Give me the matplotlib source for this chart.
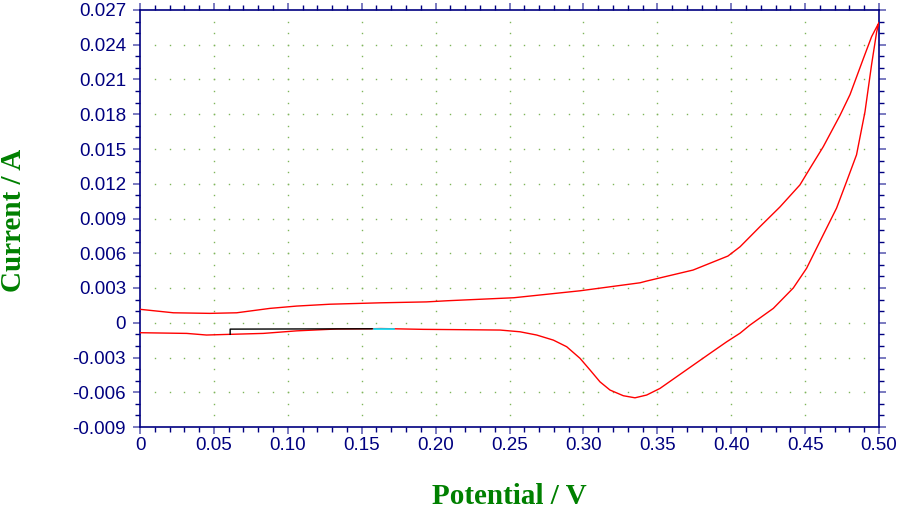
import numpy as np
import matplotlib
matplotlib.use('Agg')
import matplotlib.pyplot as plt
from matplotlib.ticker import MultipleLocator

plt.rcParams['axes.unicode_minus'] = False

# forward scan (upper branch), potential in V, current in A
fwd_v = [0.000, 0.0226, 0.0473, 0.0654, 0.0879, 0.106, 0.1285, 0.1623, 0.1938,
         0.208, 0.253, 0.2978, 0.3383, 0.3428, 0.3742, 0.3978, 0.4060, 0.4195,
         0.4330, 0.4465, 0.4533, 0.4623, 0.4736, 0.4804, 0.4894, 0.4950, 0.4995, 0.500]
fwd_i = [0.00116, 0.00086, 0.00081, 0.00086, 0.00124, 0.00144, 0.0016, 0.00172, 0.0018,
         0.0019, 0.00216, 0.00276, 0.00345, 0.0036, 0.00455, 0.00576, 0.00656, 0.0083,
         0.0100, 0.0119, 0.01333, 0.0152, 0.0179, 0.0197, 0.0228, 0.0247, 0.0258, 0.0259]

# reverse scan (lower branch)
rev_v = [0.500, 0.4984, 0.4950, 0.4905, 0.4848, 0.4781, 0.4713, 0.4623, 0.4510,
         0.4420, 0.4285, 0.4127, 0.4060, 0.397, 0.3857, 0.3744, 0.3631, 0.3518,
         0.3428, 0.3349, 0.327, 0.318, 0.3112, 0.3045, 0.2977, 0.2887, 0.2797,
         0.2684, 0.2571, 0.2436, 0.219, 0.1916, 0.163, 0.1556, 0.133,
         0.106, 0.0834, 0.061, 0.045, 0.0316, 0.000]
rev_i = [0.0259, 0.0251, 0.0223, 0.0182, 0.0145, 0.0122, 0.0099, 0.0076, 0.0047,
         0.0030, 0.00124, -0.0002, -0.0009, -0.00164, -0.00264, -0.00365, -0.00466, -0.00567,
         -0.00624, -0.00648, -0.0063, -0.00581, -0.0051, -0.00408, -0.00307, -0.00207, -0.0015,
         -0.00106, -0.00078, -0.00063, -0.00060, -0.00057, -0.0005, -0.00052, -0.00054,
         -0.0007, -0.00092, -0.00100, -0.00106, -0.00092, -0.00086]

# cursor segments near the baseline
black_v = [0.061, 0.061, 0.157]
black_i = [-0.00100, -0.00055, -0.00052]
cyan_v = [0.158, 0.172]
cyan_i = [-0.00052, -0.00052]

x_ticks = [0, 0.05, 0.10, 0.15, 0.20, 0.25, 0.30, 0.35, 0.40, 0.45, 0.50]
x_labels = ['0', '0.05', '0.10', '0.15', '0.20', '0.25', '0.30', '0.35', '0.40', '0.45', '0.50']
y_ticks = [-0.009, -0.006, -0.003, 0, 0.003, 0.006, 0.009, 0.012, 0.015, 0.018, 0.021, 0.024, 0.027]
y_labels = ['-0.009', '-0.006', '-0.003', '0', '0.003', '0.006', '0.009', '0.012',
            '0.015', '0.018', '0.021', '0.024', '0.027']

navy = '#000080'
green = '#008000'

fig = plt.figure(figsize=(9, 5.16), dpi=100)
ax = fig.add_axes([140 / 900, 1 - 427 / 516, 739 / 900, 417 / 516])

# dotted grid: dots along major lines at minor spacing
gx_minor = np.arange(0.01, 0.5, 0.01)
gy_minor = np.arange(-0.008, 0.027, 0.001)
for xv in x_ticks[1:-1]:
    ax.plot(np.full_like(gy_minor, xv), gy_minor, ls='none', marker='s', ms=1.0,
            mec='none', mfc='#7fb55a', zorder=1)
for yv in y_ticks[1:-1]:
    ax.plot(gx_minor, np.full_like(gx_minor, yv), ls='none', marker='s', ms=1.0,
            mec='none', mfc='#7fb55a', zorder=1)

ax.plot(fwd_v + rev_v[1:], fwd_i + rev_i[1:], color='#ff0000', lw=1.0, zorder=3)
ax.plot(black_v, black_i, color='black', lw=1.0, zorder=4)
ax.plot(cyan_v, cyan_i, color='#00e5ff', lw=1.2, zorder=4)

ax.set_xlim(0, 0.5)
ax.set_ylim(-0.009, 0.027)
ax.set_xticks(x_ticks)
ax.set_xticklabels(x_labels)
ax.set_yticks(y_ticks)
ax.set_yticklabels(y_labels)
ax.xaxis.set_minor_locator(MultipleLocator(0.01))
ax.yaxis.set_minor_locator(MultipleLocator(0.001))

for s in ax.spines.values():
    s.set_color(navy)
    s.set_linewidth(1.2)

ax.tick_params(which='both', direction='out', colors=navy, top=True, right=True)
ax.tick_params(which='major', length=5, width=1.4, color='#7a7ac0')
ax.tick_params(which='minor', length=3.5, width=1.0)
ax.tick_params(axis='x', which='major', pad=2, labelsize=13.5, labelcolor=navy)
ax.tick_params(axis='y', which='major', pad=5, labelsize=13.5, labelcolor=navy)
for lab in ax.get_xticklabels() + ax.get_yticklabels():
    lab.set_family('Liberation Sans')

fig.text(509 / 900, 1 - 497 / 516, 'Potential / V', ha='center', va='center',
         family='Liberation Serif', fontweight='bold', fontsize=21, color=green)
fig.text(14 / 900, 1 - 220 / 516, 'Current / A', ha='center', va='center', rotation=90,
         family='Liberation Serif', fontweight='bold', fontsize=21, color=green)

fig.savefig('out.png', dpi=100)
